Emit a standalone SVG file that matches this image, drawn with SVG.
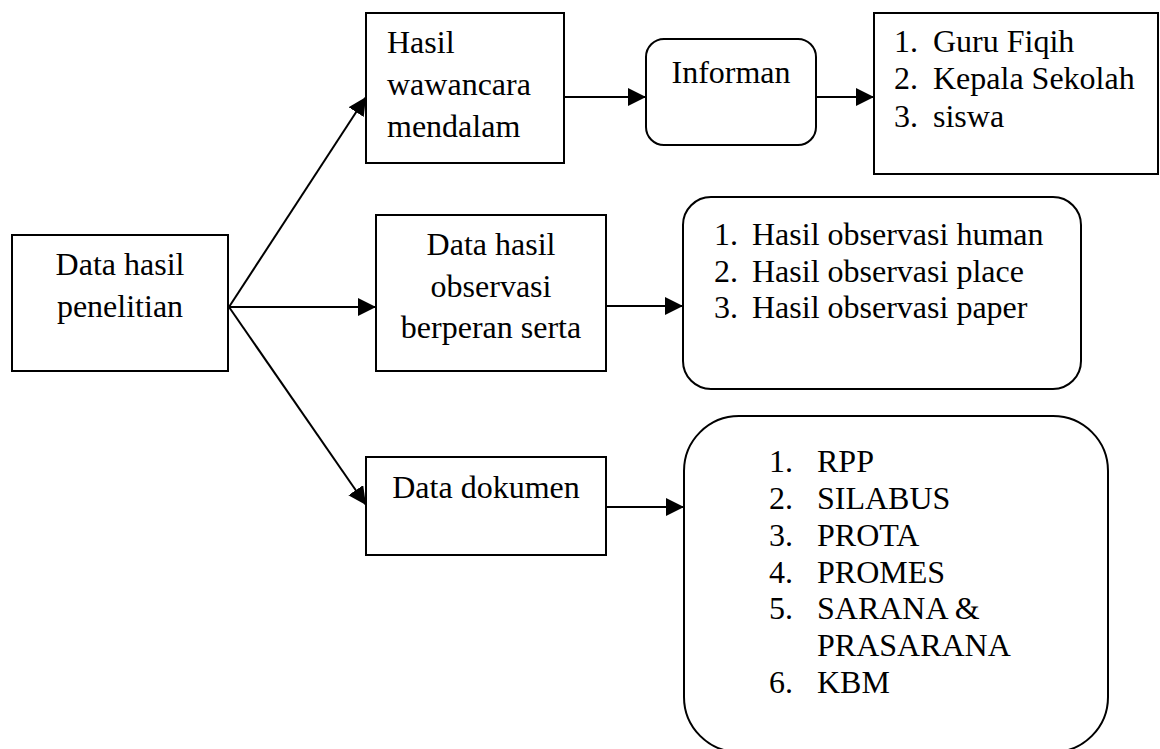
<svg xmlns="http://www.w3.org/2000/svg" width="1160" height="749" viewBox="0 0 1160 749">
<style>
.box{fill:#fff;stroke:#000;stroke-width:2}
.t{font-family:"Liberation Serif","Times New Roman",serif;font-size:32px;fill:#000}
.c{text-anchor:middle}
.ln{stroke:#000;stroke-width:2;fill:none}
</style>
<defs>
<marker id="ah" markerUnits="userSpaceOnUse" markerWidth="18" markerHeight="18" viewBox="0 0 16 16" refX="16" refY="8" orient="auto">
<path d="M0,0 L16,8 L0,16 Z" fill="#000"/>
</marker>
</defs>
<rect x="0" y="0" width="1160" height="749" fill="#fff"/>
<g id="connectors">
<line class="ln" x1="229" y1="307" x2="366" y2="97" marker-end="url(#ah)"/>
<line class="ln" x1="229" y1="307" x2="376" y2="307" marker-end="url(#ah)"/>
<line class="ln" x1="229" y1="307" x2="366" y2="505" marker-end="url(#ah)"/>
<line class="ln" x1="564" y1="97" x2="646" y2="97" marker-end="url(#ah)"/>
<line class="ln" x1="816" y1="97" x2="874" y2="97" marker-end="url(#ah)"/>
<line class="ln" x1="606" y1="306" x2="683" y2="306" marker-end="url(#ah)"/>
<line class="ln" x1="606" y1="507" x2="684" y2="507" marker-end="url(#ah)"/>
</g>
<g id="data-hasil-penelitian">
<rect class="box" x="12" y="235" width="216" height="136"/>
<text class="t c" x="120" y="275">Data hasil</text>
<text class="t c" x="120" y="317">penelitian</text>
</g>
<g id="hasil-wawancara">
<rect class="box" x="366" y="13" width="198" height="150"/>
<text class="t" x="387" y="53">Hasil</text>
<text class="t" x="387" y="95">wawancara</text>
<text class="t" x="387" y="137">mendalam</text>
</g>
<g id="informan">
<rect class="box" x="646" y="39" width="170" height="106" rx="18" ry="18"/>
<text class="t c" x="731" y="83">Informan</text>
</g>
<g id="informan-list">
<rect class="box" x="874" y="13" width="284" height="161"/>
<text class="t" x="894" y="52">1.</text><text class="t" x="933" y="52">Guru Fiqih</text>
<text class="t" x="894" y="89">2.</text><text class="t" x="933" y="89">Kepala Sekolah</text>
<text class="t" x="894" y="127">3.</text><text class="t" x="933" y="127">siswa</text>
</g>
<g id="data-hasil-observasi">
<rect class="box" x="376" y="215" width="230" height="156"/>
<text class="t c" x="491" y="255">Data hasil</text>
<text class="t c" x="491" y="297">observasi</text>
<text class="t c" x="491" y="338">berperan serta</text>
</g>
<g id="observasi-list">
<rect class="box" x="683" y="197" width="398" height="192" rx="28" ry="28"/>
<text class="t" x="714" y="245">1.</text><text class="t" x="752" y="245">Hasil observasi human</text>
<text class="t" x="714" y="282">2.</text><text class="t" x="752" y="282">Hasil observasi place</text>
<text class="t" x="714" y="318">3.</text><text class="t" x="752" y="318">Hasil observasi paper</text>
</g>
<g id="data-dokumen">
<rect class="box" x="366" y="457" width="240" height="98"/>
<text class="t c" x="486" y="498">Data dokumen</text>
</g>
<g id="dokumen-list">
<rect class="box" x="684" y="416" width="424" height="336" rx="55" ry="55"/>
<text class="t" x="769" y="472">1.</text><text class="t" x="817" y="472">RPP</text>
<text class="t" x="769" y="509">2.</text><text class="t" x="817" y="509">SILABUS</text>
<text class="t" x="769" y="546">3.</text><text class="t" x="817" y="546">PROTA</text>
<text class="t" x="769" y="583">4.</text><text class="t" x="817" y="583">PROMES</text>
<text class="t" x="769" y="619">5.</text><text class="t" x="817" y="619">SARANA &amp;</text>
<text class="t" x="817" y="656">PRASARANA</text>
<text class="t" x="769" y="693">6.</text><text class="t" x="817" y="693">KBM</text>
</g>
</svg>
